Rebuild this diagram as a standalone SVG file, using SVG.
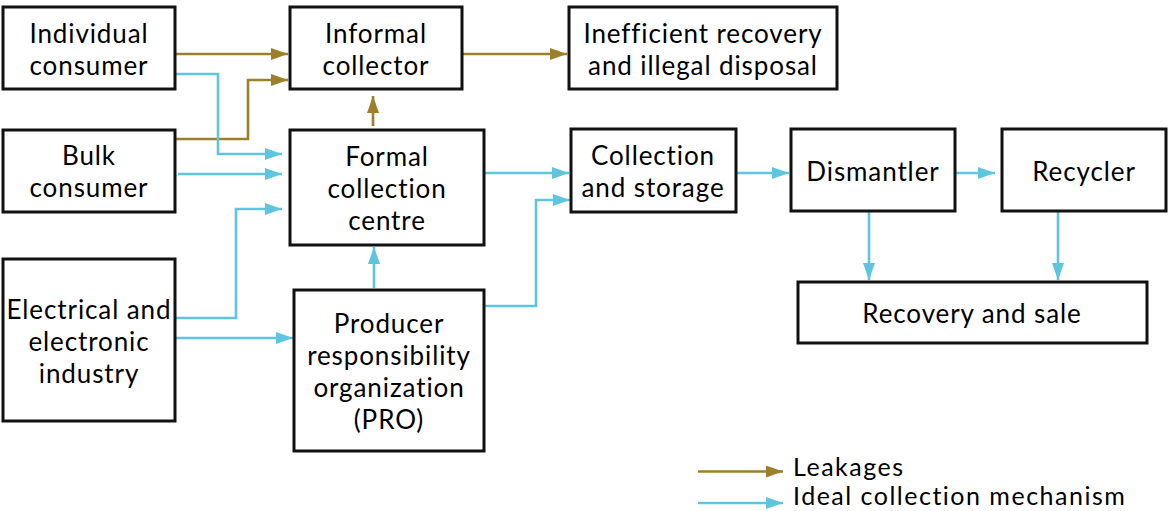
<svg xmlns="http://www.w3.org/2000/svg" width="1168" height="511" viewBox="0 0 1168 511">
<style>
.box{fill:#fff;stroke:#111;stroke-width:3}
.t{font-family:Lato,"Open Sans",sans-serif;font-size:26px;letter-spacing:0.9px;fill:#000;text-anchor:middle}
.lg{font-family:Lato,"Open Sans",sans-serif;font-size:25px;letter-spacing:1.5px;fill:#000}
.br{fill:none;stroke:#9b7f2b;stroke-width:2.6;marker-end:url(#ab)}
.bl{fill:none;stroke:#5ec5de;stroke-width:2.6;marker-end:url(#ac)}
</style>
<defs>
<marker id="ab" markerUnits="userSpaceOnUse" markerWidth="18" markerHeight="13" refX="17" refY="6" orient="auto"><path d="M0,0 L17,6 L0,12 Z" fill="#9b7f2b"/></marker>
<marker id="ac" markerUnits="userSpaceOnUse" markerWidth="18" markerHeight="13" refX="17" refY="6" orient="auto"><path d="M0,0 L17,6 L0,12 Z" fill="#5ec5de"/></marker>
</defs>
<rect width="1168" height="511" fill="#fff"/>
<g id="connectors">
<path class="br" d="M175,54 H288"/>
<path class="br" d="M175,139 H248 V80 H288"/>
<path class="br" d="M373,126 V96"/>
<path class="br" d="M462,54 H567"/>
<path class="bl" d="M175,74 H218 V154 H282"/>
<path class="bl" d="M178,174 H282"/>
<path class="bl" d="M175,318 H236 V209 H282"/>
<path class="bl" d="M175,338 H293"/>
<path class="bl" d="M374,288 V247"/>
<path class="bl" d="M484,173 H569"/>
<path class="bl" d="M484,306 H536 V200 H570"/>
<path class="bl" d="M736,173 H789"/>
<path class="bl" d="M955,173 H995"/>
<path class="bl" d="M869,211 V280"/>
<path class="bl" d="M1058,211 V280"/>
</g>
<g id="individual"><rect class="box" x="3" y="7" width="172" height="82"/><text class="t"><tspan x="89" y="43">Individual</tspan><tspan x="89" y="75">consumer</tspan></text></g>
<g id="bulk"><rect class="box" x="3" y="130" width="172" height="82"/><text class="t"><tspan x="89" y="165">Bulk</tspan><tspan x="89" y="197">consumer</tspan></text></g>
<g id="electrical"><rect class="box" x="3" y="259" width="172" height="162"/><text class="t"><tspan x="89" y="319">Electrical and</tspan><tspan x="89" y="351">electronic</tspan><tspan x="89" y="383">industry</tspan></text></g>
<g id="informal"><rect class="box" x="290" y="7" width="172" height="82"/><text class="t"><tspan x="376" y="43">Informal</tspan><tspan x="376" y="75">collector</tspan></text></g>
<g id="formal"><rect class="box" x="290" y="130" width="194" height="115"/><text class="t"><tspan x="387" y="166">Formal</tspan><tspan x="387" y="198">collection</tspan><tspan x="387" y="230">centre</tspan></text></g>
<g id="pro"><rect class="box" x="294" y="290" width="190" height="161"/><text class="t"><tspan x="389" y="333">Producer</tspan><tspan x="389" y="365">responsibility</tspan><tspan x="389" y="397">organization</tspan><tspan x="389" y="429">(PRO)</tspan></text></g>
<g id="inefficient"><rect class="box" x="569" y="7" width="268" height="82"/><text class="t"><tspan x="703" y="43">Inefficient recovery</tspan><tspan x="703" y="75">and illegal disposal</tspan></text></g>
<g id="collection"><rect class="box" x="571" y="129" width="165" height="83"/><text class="t"><tspan x="653" y="165">Collection</tspan><tspan x="653" y="197">and storage</tspan></text></g>
<g id="dismantler"><rect class="box" x="791" y="129" width="164" height="82"/><text class="t" x="873" y="181">Dismantler</text></g>
<g id="recycler"><rect class="box" x="1002" y="129" width="164" height="82"/><text class="t" x="1084" y="181">Recycler</text></g>
<g id="recovery"><rect class="box" x="798" y="282" width="349" height="61"/><text class="t" x="972" y="323">Recovery and sale</text></g>
<g id="legend">
<path class="br" d="M698,471.5 H783"/>
<path class="bl" d="M698,503 H783"/>
<text class="lg" x="793" y="476">Leakages</text>
<text class="lg" x="793" y="505">Ideal collection mechanism</text>
</g>
</svg>
